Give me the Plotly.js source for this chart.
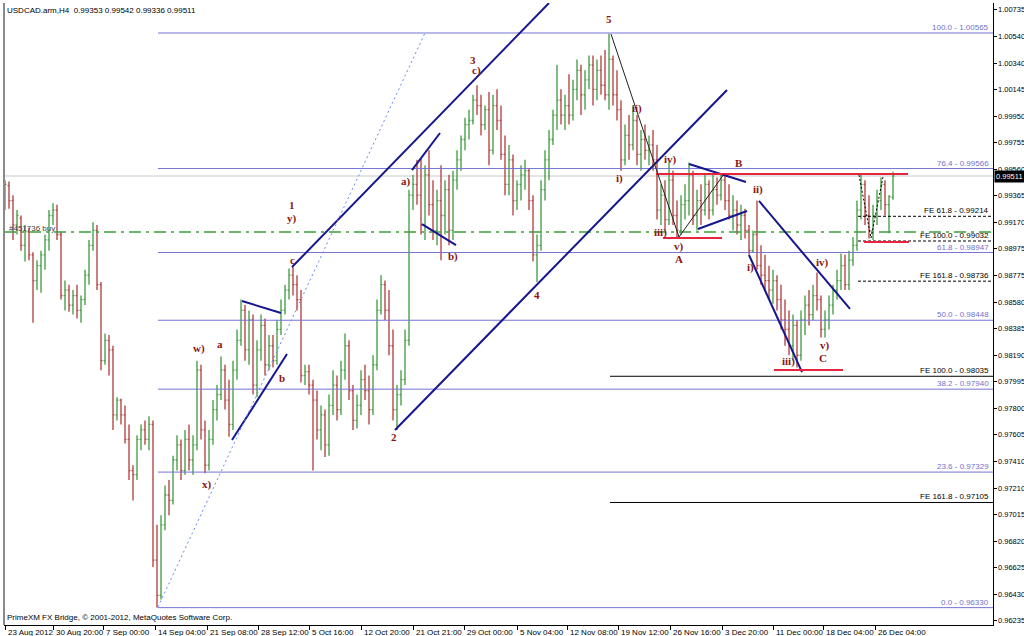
<!DOCTYPE html>
<html><head><meta charset="utf-8">
<script src="https://cdn.plot.ly/plotly-3.0.1.min.js"></script>
<style>html,body{margin:0;padding:0;background:#fff;}#chart{width:1024px;height:636px;}</style>
</head><body><div id="chart"></div>
<script>
// ---- OHLC data (USDCAD H4) ----
const open = [.9933,.9944,.9933,.9915,.9920,.9900,.9910,.9893,.9874,.9885,
 .9893,.9904,.9922,.9926,.9908,.9863,.9867,.9856,.9863,.9852,
 .9860,.9878,.9900,.9911,.9871,.9815,.9830,.9823,.9775,.9786,
 .9775,.9757,.9734,.9731,.9757,.9764,.9757,.9768,.9668,.9642,
 .9694,.9716,.9712,.9742,.9753,.9734,.9757,.9742,.9753,.9808,
 .9764,.9738,.9757,.9779,.9790,.9808,.9786,.9768,.9808,.9830,
 .9852,.9823,.9845,.9797,.9823,.9841,.9812,.9826,.9815,.9838,
 .9852,.9867,.9878,.9871,.9860,.9804,.9807,.9797,.9786,.9764,
 .9775,.9753,.9782,.9797,.9779,.9808,.9826,.9793,.9771,.9782,
 .9801,.9793,.9779,.9812,.9852,.9871,.9852,.9826,.9779,.9790,
 .9801,.9830,.9937,.9945,.9937,.9915,.9952,.9930,.9911,.9933,
 .9922,.9941,.9911,.9948,.9963,.9978,.9989,.9992,1.0007,1.0003,
 .9989,1.0000,.9970,1.0003,.9992,.9967,.9945,.9963,.9933,.9945,
 .9952,.9955,.9933,.9893,.9900,.9941,.9963,.9978,.9996,1.0007,
 .9996,1.0003,.9996,1.0015,1.0029,1.0011,1.0022,1.0033,1.0015,1.0029,
 1.0018,1.0011,1.0037,1.0011,1.0000,.9963,.9981,.9974,.9992,.9967,
 .9978,.9970,.9974,.9963,.9926,.9937,.9919,.9948,.9922,.9911,
 .9930,.9933,.9952,.9922,.9933,.9926,.9945,.9926,.9941,.9937,
 .9948,.9933,.9922,.9926,.9915,.9922,.9911,.9896,.9908,.9885,
 .9878,.9874,.9867,.9874,.9860,.9845,.9838,.9826,.9841,.9819,
 .9845,.9856,.9849,.9863,.9860,.9838,.9845,.9856,.9867,.9874,
 .9885,.9871,.9889,.9900,.9926,.9945,.9922,.9911,.9922,.9933,
 .9945,.9930,.99353];
const high = [.9948,.9947,.9937,.9926,.9922,.9915,.9913,.9895,.9889,.9896,
 .9908,.9926,.9931,.9930,.9910,.9874,.9871,.9867,.9871,.9863,
 .9882,.9904,.9917,.9915,.9873,.9835,.9834,.9826,.9788,.9787,
 .9782,.9768,.9738,.9760,.9768,.9771,.9774,.9771,.9694,.9701,
 .9723,.9727,.9745,.9760,.9757,.9764,.9768,.9760,.9815,.9812,
 .9771,.9764,.9786,.9797,.9818,.9812,.9801,.9815,.9838,.9860,
 .9856,.9852,.9849,.9830,.9849,.9846,.9834,.9834,.9845,.9860,
 .9871,.9883,.9884,.9878,.9867,.9812,.9812,.9801,.9793,.9782,
 .9779,.9790,.9808,.9804,.9815,.9835,.9830,.9797,.9790,.9808,
 .9812,.9804,.9819,.9860,.9878,.9874,.9867,.9838,.9797,.9808,
 .9838,.9941,.9952,.9963,.9964,.9959,.9970,.9948,.9941,.9959,
 .9948,.9952,.9955,.9970,.9981,.9994,1.0000,1.0011,1.0018,1.0011,
 1.0003,1.0013,1.0011,1.0015,1.0003,.9981,.9974,.9967,.9948,.9959,
 .9963,.9957,.9937,.9908,.9948,.9970,.9985,1.0000,1.0033,1.0015,
 1.0011,1.0026,1.0022,1.0037,1.0033,1.0029,1.0040,1.0040,1.0037,1.0040,
 1.0044,1.0056,1.0040,1.0029,1.0007,.9989,.9996,1.0003,.9996,.9985,
 .9989,.9981,.9985,.9974,.9945,.9948,.9961,.9955,.9933,.9937,
 .9945,.9961,.9955,.9941,.9945,.9952,.9948,.9952,.9950,.9953,
 .9953,.9945,.9937,.9933,.9930,.9927,.9915,.9911,.9933,.9900,
 .9893,.9885,.9882,.9878,.9871,.9860,.9852,.9849,.9845,.9852,
 .9863,.9867,.9871,.9880,.9863,.9852,.9863,.9871,.9882,.9894,
 .9893,.9896,.9906,.9933,.9952,.9948,.9937,.9930,.9941,.9950,
 .9948,.9937,.99542];
const low = [.9926,.9927,.9904,.9908,.9896,.9888,.9889,.9843,.9867,.9865,
 .9882,.9896,.9915,.9904,.9860,.9852,.9851,.9849,.9846,.9843,
 .9856,.9871,.9896,.9867,.9808,.9812,.9804,.9764,.9771,.9768,
 .9754,.9727,.9712,.9727,.9749,.9753,.9749,.9663,.9633,.9639,
 .9690,.9701,.9709,.9734,.9727,.9731,.9734,.9731,.9749,.9757,
 .9732,.9734,.9753,.9771,.9786,.9779,.9759,.9764,.9801,.9826,
 .9815,.9812,.9790,.9788,.9815,.9804,.9808,.9810,.9812,.9834,
 .9849,.9860,.9863,.9852,.9799,.9797,.9790,.9734,.9757,.9749,
 .9744,.9745,.9775,.9771,.9775,.9801,.9786,.9764,.9765,.9775,
 .9786,.9768,.9775,.9808,.9849,.9845,.9819,.9771,.9764,.9782,
 .9797,.9826,.9926,.9930,.9908,.9904,.9922,.9904,.9900,.9889,
 .9908,.9900,.9904,.9941,.9955,.9970,.9978,.9989,.9996,.9981,
 .9985,.9959,.9967,.9985,.9963,.9937,.9937,.9922,.9926,.9933,
 .9941,.9926,.9888,.9873,.9896,.9933,.9948,.9974,.9985,.9989,
 .9985,.9989,.9992,1.0007,.9996,1.0000,1.0015,1.0003,1.0007,1.0011,
 1.0007,1.0000,1.0003,.9992,.9955,.9959,.9963,.9970,.9959,.9955,
 .9963,.9959,.9955,.9919,.9915,.9911,.9915,.9915,.9906,.9908,
 .9919,.9922,.9915,.9911,.9915,.9922,.9919,.9922,.9930,.9933,
 .9926,.9919,.9911,.9908,.9904,.9905,.9893,.9895,.9882,.9871,
 .9867,.9860,.9857,.9852,.9838,.9826,.9819,.9815,.9810,.9815,
 .9834,.9841,.9845,.9852,.9832,.9832,.9838,.9849,.9860,.9867,
 .9867,.9867,.9885,.9896,.9919,.9915,.9905,.9904,.9915,.9926,
 .9922,.9909,.99336];
const close = [.9945,.9933,.9915,.9922,.9900,.9910,.9893,.9874,.9885,.9893,
 .9904,.9922,.9926,.9908,.9863,.9867,.9856,.9863,.9852,.9860,
 .9878,.9900,.9911,.9871,.9815,.9830,.9823,.9775,.9786,.9775,
 .9757,.9734,.9731,.9757,.9764,.9757,.9768,.9668,.9642,.9694,
 .9716,.9712,.9742,.9753,.9734,.9757,.9742,.9753,.9808,.9764,
 .9738,.9757,.9779,.9790,.9808,.9786,.9768,.9808,.9830,.9852,
 .9823,.9845,.9797,.9823,.9841,.9812,.9826,.9815,.9838,.9852,
 .9867,.9878,.9871,.9860,.9804,.9807,.9797,.9786,.9764,.9775,
 .9753,.9782,.9797,.9779,.9808,.9826,.9793,.9771,.9782,.9801,
 .9793,.9779,.9812,.9852,.9871,.9852,.9826,.9779,.9790,.9801,
 .9830,.9937,.9945,.9937,.9915,.9952,.9930,.9911,.9933,.9922,
 .9941,.9911,.9948,.9963,.9978,.9989,.9992,1.0007,1.0003,.9989,
 1.0000,.9970,1.0003,.9992,.9967,.9945,.9963,.9933,.9945,.9952,
 .9955,.9933,.9893,.9900,.9941,.9963,.9978,.9996,1.0007,.9996,
 1.0003,.9996,1.0015,1.0029,1.0011,1.0022,1.0033,1.0015,1.0029,1.0018,
 1.0011,1.0037,1.0011,1.0000,.9963,.9981,.9974,.9992,.9967,.9978,
 .9970,.9974,.9963,.9926,.9937,.9919,.9948,.9922,.9911,.9930,
 .9933,.9952,.9922,.9933,.9926,.9945,.9926,.9941,.9937,.9948,
 .9933,.9922,.9926,.9915,.9922,.9911,.9896,.9908,.9885,.9878,
 .9874,.9867,.9874,.9860,.9845,.9838,.9826,.9841,.9819,.9845,
 .9856,.9849,.9863,.9860,.9838,.9845,.9856,.9867,.9874,.9885,
 .9871,.9889,.9900,.9926,.9945,.9922,.9911,.9922,.9933,.9945,
 .9930,.9936,.99511];

// ---- axis labels ----
const dateLabels = ["23 Aug 2012","30 Aug 20:00","7 Sep 00:00","14 Sep 04:00","21 Sep 08:00","28 Sep 12:00",
 "5 Oct 16:00","12 Oct 20:00","21 Oct 21:00","29 Oct 00:00","5 Nov 04:00","12 Nov 08:00","19 Nov 12:00",
 "26 Nov 16:00","3 Dec 20:00","11 Dec 00:00","18 Dec 04:00","26 Dec 04:00"];
const dateIdx = [0,12,24.5,37.5,50.5,63.25,76,89,102,114.75,128,140.5,153.25,166.25,179.25,192,204.5,217.5];
const priceTicks = [1.00735,1.00540,1.00340,1.00145,0.99950,0.99755,0.99560,0.99365,0.99170,0.98975,0.98775,
 0.98580,0.98385,0.98190,0.97995,0.97800,0.97605,0.97410,0.97210,0.97015,0.96820,0.96625,0.96430,0.96235];

// ---- Fibonacci retracement (from low bar 38 to high bar 151) ----
const fibLevels = [100.0,76.4,61.8,50.0,38.2,23.6,0.0];
const fibPrices = [1.00565,0.99566,0.98947,0.98448,0.97940,0.97329,0.96330];
const fibStart = 38.25;
// ---- Fibonacci expansions ----
const feDashLevels = [61.8,100.0,161.8];
const feDashPrices = [0.99214,0.99032,0.98736];
const feDashStart = 213.25;
const feSolidLevels = [100.0,161.8];
const feSolidPrices = [0.98035,0.97105];
const feSolidStart = 151.25;

// ---- drawn objects ----
const trendX0 = [71.75,97.5,56.75,59.25,101.75,104.25,171,173.25,188.5,186];
const trendY0 = [0.98840,0.97639,0.97565,0.98590,0.99555,0.99157,0.99599,0.99120,0.99327,0.98929];
const trendX1 = [136,180.5,70.5,69,108.75,112.75,185.25,185.5,211.25,199.25];
const trendY1 = [1.00786,1.00145,0.98199,0.98501,0.99828,0.99002,0.99467,0.99253,0.98531,0.98066];
const redX0 = [162.75,164.5,192.25,214.75];
const redX1 = [225.75,179.25,209.5,226];
const redY = [0.99526,0.99054,0.98081,0.99024];
const zigX = [151.5,168.5,179.75];
const zigY = [1.00557,0.99061,0.99526];
const dotZigX = [213.5,216.5,219.5];
const dotZigY = [0.99518,0.99054,0.99504];
const blueDotX = [38.25,105];
const blueDotY = [0.96335,1.00565];
const orderPrice = 0.99098;
const bidPrice = 0.99511;

// ---- Elliott wave labels ----
const waveText = ["1","y)","c","w)","a","b","x)","2","3","c)","a)","b)","4","5","ii)","i)","iv)","iii)","v)","A","B","ii)","i)","iii)","iv)","v)","C"];
const waveX = [71.75,71.75,71.75,48.5,53.75,69.25,50.5,97.25,117,117.75,100.25,112,133,151,158,153.5,166.25,163.75,168.5,168.5,183.5,188.25,186.25,195.75,204.25,205,204.5];
const waveY = [0.99297,0.99201,0.98892,0.98243,0.98273,0.98022,0.97234,0.97587,1.00366,1.00285,0.99467,0.98921,0.98634,1.00668,1.00005,0.99489,0.99629,0.99091,0.98995,0.98899,0.99607,0.99408,0.98840,0.98147,0.98870,0.98265,0.98170];

const xRange = [-0.25, 247];
const yRange = [0.96202, 1.00786];
const FONT = "Liberation Sans, Arial, sans-serif";
const x = close.map((_, i) => i);

const traces = [{
  type: 'ohlc', x: x, open: open, high: high, low: low, close: close,
  increasing: {line: {color: '#3d9a3d', width: 1.3}},
  decreasing: {line: {color: '#b23a3a', width: 1.3}},
  tickwidth: 0.35, hoverinfo: 'skip', showlegend: false
}];

const shapes = [];
const annotations = [];
// bid line
shapes.push({type:'line', xref:'x', yref:'y', x0:xRange[0], x1:xRange[1], y0:bidPrice, y1:bidPrice, layer:'below', line:{color:'#c8c8c8', width:1}});
// order line
shapes.push({type:'line', xref:'x', yref:'y', x0:xRange[0], x1:xRange[1], y0:orderPrice, y1:orderPrice, line:{color:'#3aa03a', width:1.5, dash:'12px,5px,3px,5px'}});
// fib retracement
fibPrices.forEach((p, k) => {
  shapes.push({type:'line', xref:'x', yref:'y', x0:fibStart, x1:xRange[1], y0:p, y1:p, line:{color:'#7474d4', width:1}});
  annotations.push({xref:'x', yref:'y', x:xRange[1], y:p, xanchor:'right', yanchor:'bottom', xshift:-2, yshift:-1,
    text: fibLevels[k].toFixed(1) + ' - ' + p.toFixed(5), showarrow:false, font:{family:FONT, size:8, color:'#7070d0'}});
});
feDashPrices.forEach((p, k) => {
  shapes.push({type:'line', xref:'x', yref:'y', x0:feDashStart, x1:xRange[1], y0:p, y1:p, line:{color:'#000', width:1, dash:'3px,2px'}});
  annotations.push({xref:'x', yref:'y', x:xRange[1], y:p, xanchor:'right', yanchor:'bottom', xshift:-2, yshift:-1,
    text: 'FE ' + feDashLevels[k].toFixed(1) + ' - ' + p.toFixed(5), showarrow:false, font:{family:FONT, size:8, color:'#000'}});
});
feSolidPrices.forEach((p, k) => {
  shapes.push({type:'line', xref:'x', yref:'y', x0:feSolidStart, x1:xRange[1], y0:p, y1:p, line:{color:'#000', width:1}});
  annotations.push({xref:'x', yref:'y', x:xRange[1], y:p, xanchor:'right', yanchor:'bottom', xshift:-2, yshift:-1,
    text: 'FE ' + feSolidLevels[k].toFixed(1) + ' - ' + p.toFixed(5), showarrow:false, font:{family:FONT, size:8, color:'#000'}});
});
// navy trendlines
trendX0.forEach((x0, k) => {
  shapes.push({type:'line', xref:'x', yref:'y', x0:x0, y0:trendY0[k], x1:trendX1[k], y1:trendY1[k], line:{color:'#16168e', width:2}});
});
// red levels
redX0.forEach((x0, k) => {
  shapes.push({type:'line', xref:'x', yref:'y', x0:x0, x1:redX1[k], y0:redY[k], y1:redY[k], line:{color:'#e8243e', width:2}});
});
// thin black zigzag
for (let k = 0; k < zigX.length - 1; k++) {
  shapes.push({type:'line', xref:'x', yref:'y', x0:zigX[k], y0:zigY[k], x1:zigX[k+1], y1:zigY[k+1], line:{color:'#222', width:1}});
}
for (let k = 0; k < dotZigX.length - 1; k++) {
  shapes.push({type:'line', xref:'x', yref:'y', x0:dotZigX[k], y0:dotZigY[k], x1:dotZigX[k+1], y1:dotZigY[k+1], line:{color:'#000', width:1, dash:'2px,2px'}});
}
shapes.push({type:'line', xref:'x', yref:'y', x0:blueDotX[0], y0:blueDotY[0], x1:blueDotX[1], y1:blueDotY[1], line:{color:'#6a88ee', width:1, dash:'2px,3px'}});
// left frame edge
shapes.push({type:'line', xref:'paper', yref:'paper', x0:0, x1:0, y0:0, y1:1, line:{color:'#8a8a8a', width:2}});

// wave labels
waveText.forEach((t, k) => {
  annotations.push({xref:'x', yref:'y', x:waveX[k], y:waveY[k], text:'<b>' + t + '</b>', showarrow:false,
    xanchor:'center', yanchor:'middle', font:{family:'Liberation Serif, Times New Roman, serif', size:11, color:'#8c1414'}});
});
// date labels
dateLabels.forEach((t, k) => {
  annotations.push({xref:'x', yref:'paper', x:dateIdx[k], y:0, xanchor:'left', yanchor:'top', xshift:1, yshift:-1,
    text:t, showarrow:false, font:{family:FONT, size:8, color:'#000'}});
});
// price labels on the right (left aligned next to the axis)
priceTicks.forEach((v) => {
  annotations.push({xref:'paper', yref:'y', x:1, y:v, xanchor:'left', yanchor:'middle', xshift:3,
    text:v.toFixed(5), showarrow:false, font:{family:FONT, size:7.5, color:'#000'}});
});
// header, footer, order label, price tag (tag drawn last, over the 0.99560 label as in the original)
annotations.push({xref:'paper', yref:'paper', x:0, y:1, xanchor:'left', yanchor:'top', xshift:1, yshift:-1,
  text:'USDCAD.arm,H4  0.99353 0.99542 0.99336 0.99511', showarrow:false, font:{family:FONT, size:8, color:'#000'}});
annotations.push({xref:'paper', yref:'paper', x:0, y:0, xanchor:'left', yanchor:'bottom', xshift:1, yshift:1,
  text:'PrimeXM FX Bridge, © 2001-2012, MetaQuotes Software Corp.', showarrow:false, font:{family:FONT, size:8, color:'#000'}});
annotations.push({xref:'x', yref:'y', x:0.5, y:orderPrice, xanchor:'left', yanchor:'middle', yshift:4,
  text:'#451736 buy', showarrow:false, font:{family:FONT, size:8, color:'#444'}});
annotations.push({xref:'paper', yref:'y', x:1, y:bidPrice, xanchor:'left', yanchor:'middle', xshift:1,
  text:bidPrice.toFixed(5), showarrow:false, bgcolor:'#000', borderpad:1, font:{family:FONT, size:7.5, color:'#fff'}});

const layout = {
  width:1024, height:636, margin:{l:4, r:31, t:3, b:11},
  paper_bgcolor:'#fff', plot_bgcolor:'#fff', showlegend:false,
  font:{family:FONT, size:8, color:'#000'},
  xaxis:{type:'linear', range:xRange, showgrid:false, zeroline:false, showline:true, linecolor:'#000', linewidth:1,
    ticks:'outside', ticklen:4, tickcolor:'#000', tickvals:dateIdx, showticklabels:false,
    rangeslider:{visible:false}, fixedrange:true},
  yaxis:{range:yRange, side:'right', showgrid:false, zeroline:false, showline:true, linecolor:'#000', linewidth:1,
    ticks:'outside', ticklen:3, tickcolor:'#000', tickvals:priceTicks, showticklabels:false,
    automargin:false, fixedrange:true},
  shapes:shapes, annotations:annotations
};
Plotly.newPlot('chart', traces, layout, {staticPlot:true, displayModeBar:false});
</script></body></html>
